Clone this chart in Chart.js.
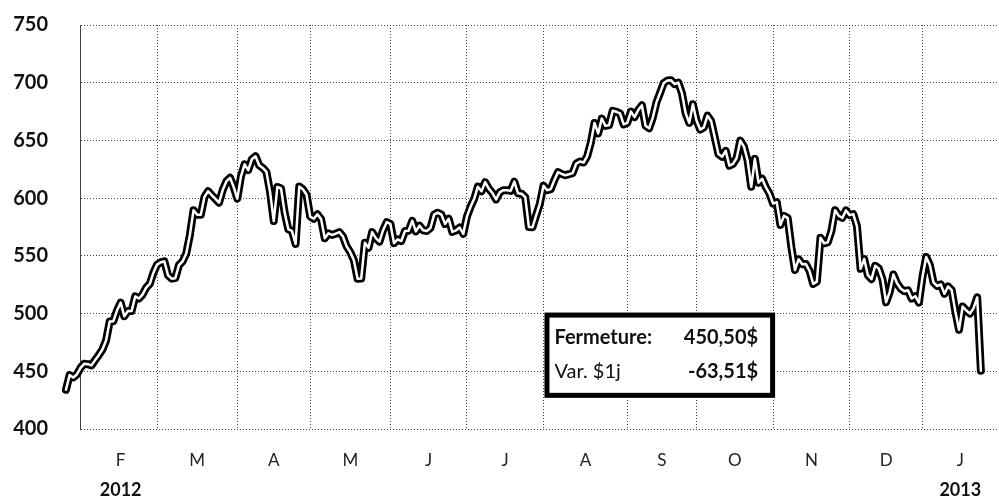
<!DOCTYPE html>
<html lang="fr">
<head>
<meta charset="UTF-8">
<title>Cours de clôture</title>
<script src="https://cdn.jsdelivr.net/npm/chart.js"></script>
<style>
  html, body { margin: 0; padding: 0; background: #fff; overflow: hidden; }
  #wrap { width: 999px; height: 499px; position: relative; }
</style>
</head>
<body>
<div id="wrap"><canvas id="chart"></canvas></div>
<script>
// daily closes, one per trading day, 24 jan 2012 -> 24 jan 2013
const closes = [
  // jan
  434, 446.66, 444.63, 447.28, 453.01, 456.48,
  // feb
  456.19, 455.12, 459.68, 463.97, 468.83, 476.68, 493.17, 493.42, 502.60, 509.46,
  497.67, 502.21, 502.12, 514.85, 513.04, 516.39, 522.41, 525.76, 535.41, 542.44,
  // mar
  544.47, 545.18, 533.16, 530.26, 530.69, 541.99, 545.17, 552.00, 568.10, 589.58, 585.56,
  585.57, 601.10, 605.96, 602.50, 599.34, 596.05, 606.98, 614.48, 617.62, 609.86, 599.55,
  // apr
  618.63, 629.32, 624.31, 633.68, 636.23, 628.44, 626.20, 622.77, 605.23, 580.13,
  609.70, 608.34, 587.44, 572.98, 571.70, 560.28, 610.00, 607.70, 603.00, 583.98,
  // may
  582.13, 585.98, 581.82, 565.25, 569.48, 568.18, 569.18, 570.52, 566.71, 558.22, 553.17,
  546.08, 530.12, 530.38, 561.28, 556.97, 570.56, 565.32, 562.29, 572.27, 579.17, 577.73,
  // jun
  560.99, 564.29, 562.83, 571.46, 571.72, 580.32, 571.17, 576.16, 572.16, 571.53, 574.13,
  585.78, 587.41, 585.74, 577.67, 582.10, 570.77, 572.02, 574.50, 569.05, 584.00,
  // jul
  592.52, 599.41, 609.94, 605.88, 613.89, 608.21, 604.43, 598.90, 604.97, 606.91, 606.94,
  606.26, 614.32, 604.30, 603.83, 600.92, 574.97, 574.88, 585.16, 595.03, 610.76,
  // aug
  606.81, 607.79, 615.70, 622.55, 620.91, 619.86, 620.73, 621.70, 630.00, 631.69, 630.83, 636.34,
  648.11, 665.15, 656.06, 668.87, 662.63, 663.22, 675.68, 674.80, 673.47, 663.87, 665.24,
  // sep
  674.97, 670.23, 676.27, 680.44, 662.74, 660.59, 669.79, 682.98, 691.28, 699.78,
  701.91, 702.10, 698.70, 700.09, 690.79, 673.54, 665.18, 681.32, 667.10,
  // oct
  659.39, 661.31, 671.45, 666.80, 652.59, 638.17, 635.85, 640.91, 628.10, 629.71, 634.76,
  649.79, 644.61, 632.64, 609.84, 634.03, 613.36, 616.83, 609.54, 604.00, 595.32,
  // nov
  596.54, 576.80, 584.62, 582.85, 558.00, 537.75, 547.06, 542.83, 542.90, 536.88, 525.62,
  527.68, 565.73, 560.91, 561.70, 571.50, 589.53, 584.78, 582.94, 589.36, 585.28,
  // dec
  586.19, 575.85, 538.79, 547.24, 533.25, 529.82, 541.39, 539.00, 529.69, 509.79,
  518.83, 533.90, 526.31, 521.73, 519.33, 520.17, 513.00, 515.06, 509.59, 532.17,
  // jan 2013
  549.03, 542.10, 527.00, 523.90, 525.31, 517.10, 523.51, 520.30,
  501.75, 485.92, 506.09, 502.68, 500.00, 504.77, 514.01, 450.50
];

// index (in closes) of the last trading day of each month, jan -> dec 2012
const monthEnds = [5, 25, 47, 67, 89, 110, 131, 154, 173, 194, 215, 235];
const months = ['F', 'M', 'A', 'M', 'J', 'J', 'A', 'S', 'O', 'N', 'D', 'J'];
const years = ['2012', '2013'];
const yTicks = [400, 450, 500, 550, 600, 650, 700, 750];

const X_MIN = 3.85;
const X_MAX = 255.7;
const GRID = '#444';
const DOTS = [1, 2];
const FONT = 'Lato';

const points = closes.map((v, i) => ({ x: i, y: v }));

// label each month in the middle of its span
const monthMids = months.map((m, i) => {
  const a = monthEnds[i];
  const b = i + 1 < monthEnds.length ? monthEnds[i + 1] : X_MAX;
  return (a + b) / 2;
});

const last = closes[closes.length - 1];
const prev = closes[closes.length - 2];
const fmt = v => v.toFixed(2).replace('.', ',') + '$';

// x range is forced after the ticks are built (not via min/max options),
// so the first days, left of the frame, are still drawn
const setTicks = values => s => {
  s.ticks = values.map(v => ({ value: v }));
  s.min = X_MIN;
  s.max = X_MAX;
};

// close / 1-day change box, anchored on aug..oct and 500 on the axes
const infoBox = {
  id: 'infoBox',
  afterDraw(chart) {
    const ctx = chart.ctx;
    const x = chart.scales.x, y = chart.scales.y;
    const left = x.getPixelForValue(monthEnds[6]) + 1;
    const right = x.getPixelForValue(monthEnds[9]) + 2;
    const top = y.getPixelForValue(500) - 1;
    const bottom = y.getPixelForValue(427);
    const lw = 5;
    ctx.save();
    ctx.fillStyle = '#fff';
    ctx.fillRect(left, top, right - left, bottom - top);
    ctx.lineWidth = lw;
    ctx.strokeStyle = '#000';
    ctx.strokeRect(left + lw / 2, top + lw / 2, right - left - lw, bottom - top - lw);

    ctx.fillStyle = '#111';
    ctx.textBaseline = 'alphabetic';
    ctx.font = 'bold 20px ' + FONT;
    ctx.textAlign = 'left';
    ctx.fillText('Fermeture:', left + 10, top + 31);
    ctx.textAlign = 'right';
    ctx.fillText(fmt(last), right - 17, top + 31);
    ctx.fillText(fmt(last - prev), right - 17, top + 65);
    ctx.font = '20px ' + FONT;
    ctx.textAlign = 'left';
    ctx.fillText('Var. $1j', left + 10, top + 65);
    ctx.restore();
  }
};

const lineBase = {
  data: points,
  xAxisID: 'x',
  yAxisID: 'y',
  pointRadius: 0,
  tension: 0,
  borderCapStyle: 'round',
  borderJoinStyle: 'round',
  clip: false
};

new Chart(document.getElementById('chart'), {
  type: 'line',
  data: {
    datasets: [
      Object.assign({}, lineBase, { borderColor: '#fff', borderWidth: 2.5 }),
      Object.assign({}, lineBase, { borderColor: '#000', borderWidth: 8 })
    ]
  },
  options: {
    responsive: true,
    maintainAspectRatio: false,
    animation: false,
    layout: { padding: { top: 25, right: 1, bottom: 0, left: 0 } },
    plugins: { legend: { display: false }, tooltip: { enabled: false } },
    scales: {
      x: {
        type: 'linear', axis: 'x', position: 'bottom', weight: 0,
        // jan 31 sits on the frame, so start at feb
        afterBuildTicks: setTicks(monthEnds.slice(1)),
        afterFit: s => { s.height = 0; },
        ticks: { display: false },
        grid: { color: GRID, lineWidth: 1, drawTicks: false },
        border: { display: false, dash: DOTS }
      },
      xm: {
        type: 'linear', axis: 'x', position: 'bottom', weight: 1,
        afterBuildTicks: setTicks(monthMids),
        afterFit: s => { s.height = 45; },
        ticks: {
          autoSkip: false, maxRotation: 0, padding: 21, color: '#222',
          font: { family: FONT, size: 17 },
          callback: (v, i) => months[i]
        },
        grid: { display: false, drawTicks: false },
        border: { display: false }
      },
      xy: {
        type: 'linear', axis: 'x', position: 'bottom', weight: 2,
        afterBuildTicks: setTicks([monthMids[0], monthMids[monthMids.length - 1]]),
        afterFit: s => { s.height = 25; },
        ticks: {
          autoSkip: false, maxRotation: 0, padding: 5, color: '#111',
          font: { family: FONT, size: 18, weight: 'bold' },
          callback: (v, i) => years[i]
        },
        grid: { display: false, drawTicks: false },
        border: { display: false }
      },
      y: {
        type: 'linear', position: 'left',
        min: 400, max: 750,
        afterBuildTicks: s => { s.ticks = yTicks.map(v => ({ value: v })); },
        afterFit: s => { s.width = 80; },
        ticks: {
          padding: 0, color: '#111',
          font: { family: FONT, size: 20, weight: 'bold' }
        },
        // invisible tick marks give the gap between labels and frame
        grid: { color: GRID, lineWidth: 1, drawTicks: true, tickLength: 32, tickColor: 'rgba(0,0,0,0)' },
        border: { display: true, color: GRID, width: 1, dash: DOTS }
      }
    }
  },
  plugins: [infoBox]
});
</script>
</body>
</html>
